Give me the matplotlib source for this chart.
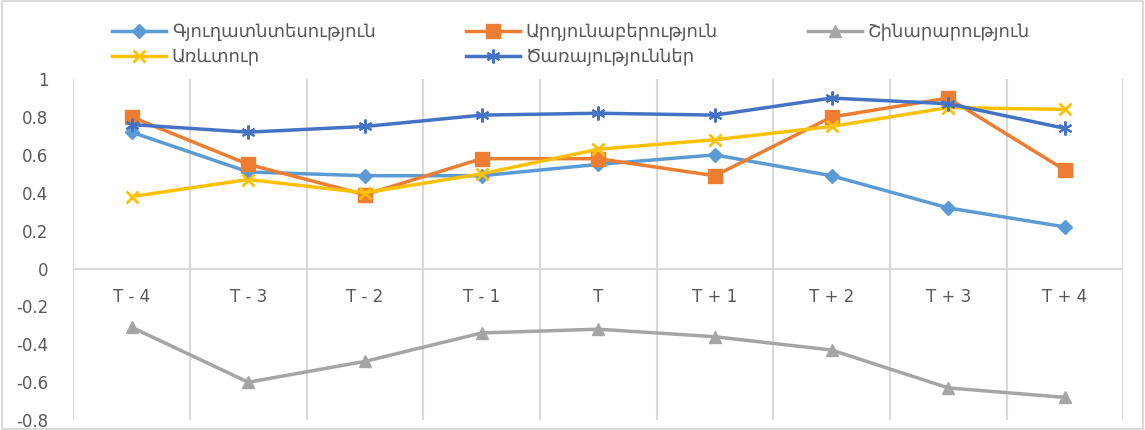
import numpy as np
import matplotlib
matplotlib.use('Agg')
import matplotlib.pyplot as plt
from matplotlib.patches import Rectangle

# categories and series
periods = ['T - 4', 'T - 3', 'T - 2', 'T - 1', 'T', 'T + 1', 'T + 2', 'T + 3', 'T + 4']
agriculture = [0.72, 0.51, 0.49, 0.49, 0.55, 0.60, 0.49, 0.32, 0.22]
industry = [0.80, 0.55, 0.39, 0.58, 0.58, 0.49, 0.80, 0.90, 0.52]
construction = [-0.31, -0.60, -0.49, -0.34, -0.32, -0.36, -0.43, -0.63, -0.68]
trade = [0.38, 0.47, 0.40, 0.50, 0.63, 0.68, 0.75, 0.85, 0.84]
services = [0.76, 0.72, 0.75, 0.81, 0.82, 0.81, 0.90, 0.87, 0.74]

names = ['Գյուղատնտեսություն', 'Արդյունաբերություն', 'Շինարարություն', 'Առևտուր', 'Ծառայություններ']

plt.rcParams['font.family'] = ['DejaVu Sans']

fig = plt.figure(figsize=(11.45, 4.3), dpi=100)
ax = fig.add_axes([0.064, 0.023, 0.917, 0.793])

x = np.arange(len(periods))
h_agr, = ax.plot(x, agriculture, color='#5B9BD5', lw=2.5, marker='D', ms=7)
h_ind, = ax.plot(x, industry, color='#ED7D31', lw=2.5, marker='s', ms=10)
h_con, = ax.plot(x, construction, color='#A5A5A5', lw=2.5, marker='^', ms=9)
h_tra, = ax.plot(x, trade, color='#FFC000', lw=2.5, marker='x', ms=9, mew=2)
h_ser, = ax.plot(x, services, color='#4472C4', lw=2.5, marker=(6, 2, 0), ms=10, mew=1.5)

ax.set_xlim(-0.5, len(periods) - 0.5)
ax.set_ylim(-0.8, 1.0)
ax.set_yticks(np.arange(-0.8, 1.01, 0.2))
ax.set_yticklabels(['-0.8', '-0.6', '-0.4', '-0.2', '0', '0.2', '0.4', '0.6', '0.8', '1'])

ax.set_xticks(x)
ax.set_xticklabels(periods)
ax.set_xticks(np.arange(-0.5, len(periods), 1), minor=True)
ax.grid(True, which='minor', axis='x', color='#D9D9D9', lw=1.5)
ax.axhline(0, color='#D9D9D9', lw=1.5, zorder=0)

for s in ax.spines.values():
    s.set_visible(False)
ax.spines['bottom'].set_position(('data', 0))
ax.tick_params(which='both', length=0)
ax.tick_params(axis='x', pad=14, labelsize=12, labelcolor='#595959')
ax.tick_params(axis='y', pad=18, labelsize=12, labelcolor='#595959')

ax.legend([h_agr, h_tra, h_ind, h_ser, h_con],
          [names[0], names[3], names[1], names[4], names[2]],
          ncol=3, loc='lower left', bbox_to_anchor=(0.025, 1.0), frameon=False,
          fontsize=13, handlelength=3, handletextpad=0.3, columnspacing=5.0,
          labelspacing=0.4, borderaxespad=0.3, labelcolor='#595959')

fig.patches.append(Rectangle((0.002, 0.002), 0.996, 0.996, transform=fig.transFigure,
                             fill=False, edgecolor='#D9D9D9', lw=1.5))

fig.savefig('out.png', dpi=100)
